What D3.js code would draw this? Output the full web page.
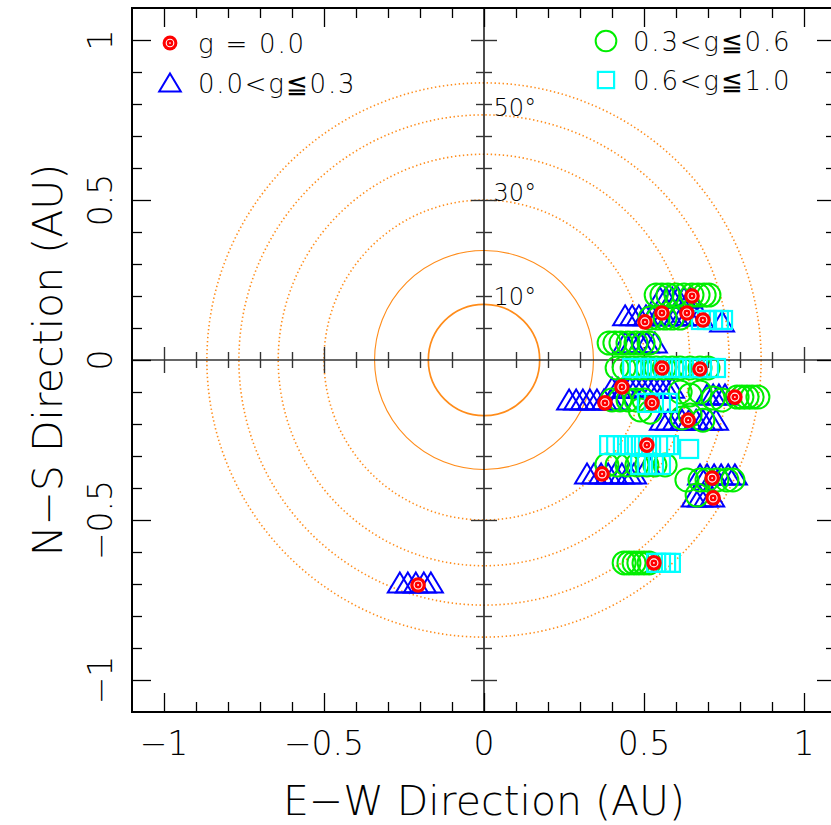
<!DOCTYPE html>
<html>
<head>
<meta charset="utf-8">
<script src="https://cdn.jsdelivr.net/npm/d3@7"></script>
<style>
  body { margin: 0; background: #fff; }
  svg { display: block; }
  text { font-family: "DejaVu Sans", "Liberation Sans", sans-serif; font-weight: 200; fill: #000; }
</style>
</head>
<body>
<svg id="chart" width="831" height="825"></svg>
<script>
// Sky-plane positions (AU) of the events, grouped by g value
const gZero = [
  [0.65, 0.2], [0.503, 0.119], [0.556, 0.147], [0.634, 0.147], [0.684, 0.125],
  [0.556, -0.025], [0.675, -0.028], [0.431, -0.084], [0.784, -0.116], [0.378, -0.134],
  [0.525, -0.134], [0.638, -0.188], [0.509, -0.266], [0.369, -0.356], [0.713, -0.369],
  [0.716, -0.431], [0.531, -0.634], [-0.206, -0.703]
];
const gLow = [
  [0.55, 0.194], [0.569, 0.194], [0.588, 0.194], [0.606, 0.194], [0.625, 0.194], [0.644, 0.194],
  [0.441, 0.138], [0.463, 0.138], [0.484, 0.138], [0.506, 0.138], [0.525, 0.138], [0.544, 0.138],
  [0.563, 0.138], [0.581, 0.138], [0.6, 0.138], [0.619, 0.138], [0.638, 0.138], [0.656, 0.138],
  [0.675, 0.138], [0.744, 0.119],
  [0.441, 0.053], [0.463, 0.053], [0.488, 0.053], [0.509, 0.053], [0.534, 0.053],
  [0.4, -0.088], [0.419, -0.088], [0.438, -0.088], [0.456, -0.088], [0.475, -0.088], [0.494, -0.088],
  [0.513, -0.088], [0.531, -0.088], [0.55, -0.088], [0.569, -0.088], [0.588, -0.088],
  [0.697, -0.109], [0.716, -0.109], [0.734, -0.109], [0.753, -0.109],
  [0.266, -0.125], [0.288, -0.125], [0.309, -0.125], [0.331, -0.125], [0.353, -0.125],
  [0.375, -0.125], [0.397, -0.125], [0.419, -0.125],
  [0.556, -0.188], [0.575, -0.188], [0.597, -0.188], [0.619, -0.188], [0.641, -0.188],
  [0.663, -0.188], [0.684, -0.188], [0.706, -0.188], [0.725, -0.188],
  [0.322, -0.356], [0.344, -0.356], [0.366, -0.356], [0.388, -0.356], [0.409, -0.356],
  [0.431, -0.356], [0.453, -0.356], [0.469, -0.356], [0.513, -0.328],
  [0.675, -0.359], [0.697, -0.359], [0.719, -0.359], [0.741, -0.359], [0.763, -0.359], [0.784, -0.359],
  [0.656, -0.428], [0.675, -0.428], [0.694, -0.428], [0.713, -0.428],
  [-0.263, -0.697], [-0.238, -0.697], [-0.213, -0.697], [-0.188, -0.697], [-0.166, -0.697]
];
const gMid = [
  [0.538, 0.203], [0.556, 0.203], [0.575, 0.203], [0.6, 0.203], [0.625, 0.203],
  [0.65, 0.203], [0.669, 0.203], [0.688, 0.203], [0.703, 0.203],
  [0.519, 0.131], [0.544, 0.131], [0.566, 0.131], [0.588, 0.131], [0.613, 0.131],
  [0.391, 0.053], [0.409, 0.053], [0.428, 0.053], [0.45, 0.053], [0.475, 0.053], [0.497, 0.053], [0.516, 0.053],
  [0.416, -0.025], [0.438, -0.025], [0.463, -0.025], [0.488, -0.025], [0.513, -0.025], [0.538, -0.025],
  [0.563, -0.025], [0.588, -0.025], [0.613, -0.025], [0.644, -0.025], [0.675, -0.025], [0.7, -0.025],
  [0.613, -0.1], [0.644, -0.109], [0.675, -0.1],
  [0.791, -0.116], [0.806, -0.116], [0.822, -0.116], [0.838, -0.116], [0.856, -0.116],
  [0.716, -0.119], [0.744, -0.125],
  [0.4, -0.125], [0.425, -0.125], [0.45, -0.125], [0.475, -0.125], [0.5, -0.125],
  [0.684, -0.188], [0.619, -0.181], [0.519, -0.163], [0.488, -0.156], [0.644, -0.172],
  [0.384, -0.328], [0.416, -0.328], [0.447, -0.328], [0.478, -0.328], [0.509, -0.328],
  [0.534, -0.328], [0.566, -0.328],
  [0.634, -0.375], [0.675, -0.375], [0.697, -0.375], [0.728, -0.375], [0.759, -0.375], [0.778, -0.375],
  [0.666, -0.422],
  [0.438, -0.634], [0.453, -0.634], [0.469, -0.634], [0.484, -0.634], [0.5, -0.634], [0.516, -0.634]
];
const gHigh = [
  [0.678, 0.125], [0.697, 0.125], [0.716, 0.125], [0.734, 0.125], [0.747, 0.125],
  [0.463, -0.025], [0.484, -0.025], [0.506, -0.025], [0.528, -0.025], [0.55, -0.025], [0.572, -0.025],
  [0.594, -0.025], [0.616, -0.025], [0.638, -0.025], [0.659, -0.025], [0.681, -0.025], [0.703, -0.025],
  [0.725, -0.025],
  [0.509, -0.134], [0.531, -0.134], [0.553, -0.134], [0.575, -0.134],
  [0.391, -0.266], [0.413, -0.266], [0.434, -0.266], [0.456, -0.266], [0.478, -0.266],
  [0.5, -0.266], [0.522, -0.266], [0.544, -0.266], [0.566, -0.266], [0.578, -0.266],
  [0.641, -0.278],
  [0.488, -0.328], [0.509, -0.328], [0.531, -0.328], [0.553, -0.328],
  [0.538, -0.634], [0.553, -0.634], [0.569, -0.634], [0.584, -0.634]
];

// Elongation rings (radius in AU = sin of elongation)
const ringAngles = [10, 20, 30, 40, 50, 60];
const ringRadii = [0.174, 0.342, 0.5, 0.643, 0.766, 0.866];
const ringStyles = ["solid", "thin", "dot", "dot", "dot", "dot"];
const ringLabelAngles = [10, 30, 50];

// Axis ticks
const majorTicks = [-1, -0.5, 0, 0.5, 1];
const majorLabels = ["\u22121", "\u22120.5", "0", "0.5", "1"];
const minorTicks = [-1, -0.9, -0.8, -0.7, -0.6, -0.5, -0.4, -0.3, -0.2, -0.1, 0,
                    0.1, 0.2, 0.3, 0.4, 0.5, 0.6, 0.7, 0.8, 0.9, 1];

const legendLeft = [
  { kind: "zero", label: "g = 0.0" },
  { kind: "low", label: "0.0<g\u22660.3" }
];
const legendRight = [
  { kind: "mid", label: "0.3<g\u22660.6" },
  { kind: "high", label: "0.6<g\u22661.0" }
];

const svg = d3.select("#chart");
const x = d3.scaleLinear().domain([-1.1, 1.1]).range([132, 836]);
const y = d3.scaleLinear().domain([-1.1, 1.1]).range([712, 8]);

const ORANGE = "#ff8c1a";
const RED = "#ff0000", BLUE = "#0000ff", GREEN = "#00ee00", CYAN = "#00ffff";

// ---- rings ----
const ringG = svg.append("g");
ringRadii.forEach((r, i) => {
  const c = ringG.append("circle")
    .attr("cx", x(0)).attr("cy", y(0))
    .attr("r", x(r) - x(0))
    .attr("fill", "none")
    .attr("stroke", ORANGE);
  if (ringStyles[i] === "solid") c.attr("stroke-width", 1.7);
  else if (ringStyles[i] === "thin") c.attr("stroke-width", 1.1);
  else c.attr("stroke-width", 1.6).attr("stroke-dasharray", "1.4 2.6");
});

// ---- centre cross with ticks ----
const cross = svg.append("g");
cross.append("line").attr("x1", x(0)).attr("x2", x(0)).attr("y1", y(1.1)).attr("y2", y(-1.1))
  .attr("stroke", "#111").attr("stroke-width", 1.5);
cross.append("line").attr("x1", x(-1.1)).attr("x2", x(1.1)).attr("y1", y(0)).attr("y2", y(0))
  .attr("stroke", "#333").attr("stroke-width", 1.5);

function tickAxes(g, axisFn, scale, values, size) {
  g.call(axisFn(scale).tickValues(values).tickSize(size).tickFormat(""))
   .call(s => s.select(".domain").remove())
   .call(s => s.selectAll(".tick line").attr("stroke", "#333").attr("stroke-width", 1.4));
}
const minorOnly = minorTicks.filter(v => majorTicks.indexOf(v) < 0);
const majorNoZero = majorTicks.filter(v => v !== 0);
[[d3.axisLeft, 8], [d3.axisRight, 8]].forEach(([fn, s]) => {
  tickAxes(cross.append("g").attr("transform", `translate(${x(0)},0)`), fn, y, minorOnly, s);
  tickAxes(cross.append("g").attr("transform", `translate(${x(0)},0)`), fn, y, majorNoZero, 13);
});
[[d3.axisTop, 8], [d3.axisBottom, 8]].forEach(([fn, s]) => {
  tickAxes(cross.append("g").attr("transform", `translate(0,${y(0)})`), fn, x, minorOnly, s);
  tickAxes(cross.append("g").attr("transform", `translate(0,${y(0)})`), fn, x, majorNoZero, 13);
});

// ---- frame ticks (pointing inward) ----
const frame = svg.append("g");
function frameTicks(transform, fn, scale, values, size) {
  frame.append("g").attr("transform", transform)
    .call(fn(scale).tickValues(values).tickSize(size).tickFormat(""))
    .call(s => s.select(".domain").remove())
    .call(s => s.selectAll(".tick line").attr("stroke", "#000").attr("stroke-width", 1.3));
}
frameTicks(`translate(0,${y(-1.1)})`, d3.axisBottom, x, minorOnly, -10);
frameTicks(`translate(0,${y(-1.1)})`, d3.axisBottom, x, majorTicks, -19);
frameTicks(`translate(0,${y(1.1)})`, d3.axisTop, x, minorOnly, -10);
frameTicks(`translate(0,${y(1.1)})`, d3.axisTop, x, majorTicks, -19);
frameTicks(`translate(${x(-1.1)},0)`, d3.axisLeft, y, minorOnly, -10);
frameTicks(`translate(${x(-1.1)},0)`, d3.axisLeft, y, majorTicks, -19);
frameTicks(`translate(${x(1.1)},0)`, d3.axisRight, y, minorOnly, -10);
frameTicks(`translate(${x(1.1)},0)`, d3.axisRight, y, majorTicks, -19);
frame.append("rect")
  .attr("x", x(-1.1)).attr("y", y(1.1))
  .attr("width", x(1.1) - x(-1.1)).attr("height", y(-1.1) - y(1.1))
  .attr("fill", "none").attr("stroke", "#000").attr("stroke-width", 2);

// ---- tick labels ----
svg.append("g").selectAll("text").data(majorTicks).join("text")
  .attr("x", d => x(d)).attr("y", 755)
  .attr("text-anchor", "middle").attr("font-size", 33)
  .text((d, i) => majorLabels[i]);
svg.append("g").selectAll("text").data(majorTicks).join("text")
  .attr("transform", d => `translate(112,${y(d)}) rotate(-90)`)
  .attr("text-anchor", "middle").attr("font-size", 33)
  .text((d, i) => majorLabels[i]);

// ---- axis titles ----
svg.append("text").attr("x", x(0)).attr("y", 815)
  .attr("text-anchor", "middle").attr("font-size", 41)
  .text("E\u2212W Direction (AU)");
svg.append("text").attr("transform", `translate(62,${y(0)}) rotate(-90)`)
  .attr("text-anchor", "middle").attr("font-size", 41)
  .text("N\u2212S Direction (AU)");

// ---- ring labels ----
svg.append("g").selectAll("text").data(ringLabelAngles).join("text")
  .attr("x", x(0.03))
  .attr("y", d => y(ringRadii[ringAngles.indexOf(d)]) + 1)
  .attr("font-size", 24)
  .text(d => d + "\u00b0");

// ---- marker shapes ----
function drawMarker(g, kind, px, py, scale) {
  const k = scale || 1;
  if (kind === "low") {
    g.append("path")
      .attr("d", `M${px},${py - 10.5 * k}L${px + 12 * k},${py + 9.5 * k}L${px - 12 * k},${py + 9.5 * k}Z`)
      .attr("fill", "none").attr("stroke", BLUE).attr("stroke-width", 2).attr("stroke-linejoin", "miter");
  } else if (kind === "mid") {
    g.append("circle").attr("cx", px).attr("cy", py).attr("r", 11.5 * k)
      .attr("fill", "none").attr("stroke", GREEN).attr("stroke-width", 2);
  } else if (kind === "high") {
    const h = 9 * k;
    g.append("rect").attr("x", px - h).attr("y", py - h).attr("width", 2 * h).attr("height", 2 * h)
      .attr("fill", "none").attr("stroke", CYAN).attr("stroke-width", 2.2);
  } else {
    g.append("circle").attr("cx", px).attr("cy", py).attr("r", 7.8 * k).attr("fill", RED);
    g.append("circle").attr("cx", px).attr("cy", py).attr("r", 4 * k)
      .attr("fill", "none").attr("stroke", "#fff").attr("stroke-width", 1.1);
    g.append("circle").attr("cx", px).attr("cy", py).attr("r", 0.9 * k).attr("fill", "#fff");
  }
}

const marks = svg.append("g");
[["low", gLow], ["mid", gMid], ["high", gHigh], ["zero", gZero]].forEach(([kind, arr]) => {
  const g = marks.append("g");
  arr.forEach(d => drawMarker(g, kind, x(d[0]), y(d[1])));
});

// ---- legend ----
const leg = svg.append("g");
legendLeft.forEach((e, i) => {
  const cy = 43 + i * 40;
  drawMarker(leg, e.kind, 170, cy, e.kind === "low" ? 0.9 : 0.95);
  leg.append("text").attr("x", 198).attr("y", cy + 9.5)
    .attr("font-size", 26).attr("letter-spacing", 1.8).text(e.label);
});
legendRight.forEach((e, i) => {
  const cy = 41 + i * 39;
  drawMarker(leg, e.kind, 606, cy, 0.9);
  leg.append("text").attr("x", 633).attr("y", cy + 9.5)
    .attr("font-size", 26).attr("letter-spacing", 1.8).text(e.label);
});
</script>
</body>
</html>
